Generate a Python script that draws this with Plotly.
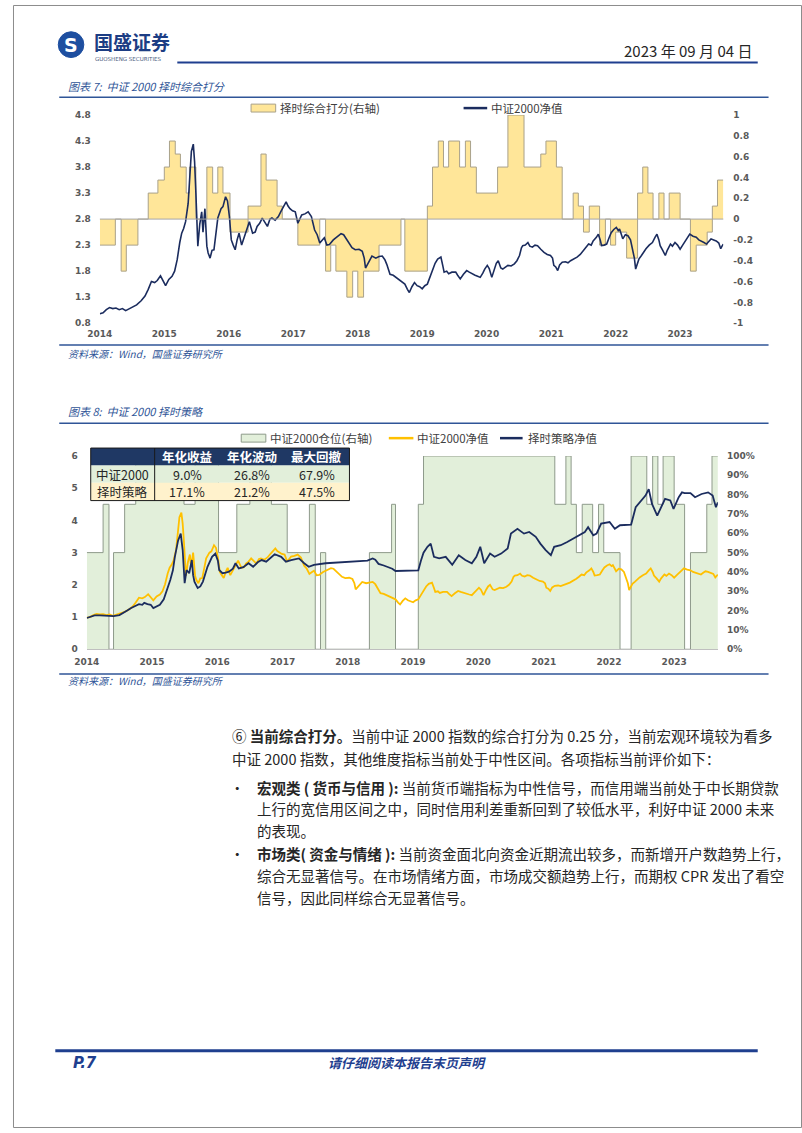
import pandas as pd
import plotly.graph_objects as go

W, H = 802, 1133

# ---------------- data ----------------
idx_year = [2014.00, 2014.05, 2014.10, 2014.15, 2014.20, 2014.25, 2014.30, 2014.35, 2014.40, 2014.45,
            2014.50, 2014.57, 2014.64, 2014.70, 2014.75, 2014.80, 2014.85, 2014.89, 2014.94, 2014.98,
            2015.02, 2015.07, 2015.12, 2015.16, 2015.20, 2015.24, 2015.27, 2015.30, 2015.33, 2015.37,
            2015.40, 2015.42, 2015.45, 2015.47, 2015.49, 2015.52, 2015.55, 2015.58, 2015.60, 2015.63,
            2015.66, 2015.68, 2015.71, 2015.74, 2015.77, 2015.80, 2015.83, 2015.88, 2015.91, 2015.95,
            2015.98, 2016.01, 2016.04, 2016.07, 2016.10, 2016.13, 2016.16, 2016.20, 2016.24, 2016.28,
            2016.32, 2016.37, 2016.41, 2016.44, 2016.48, 2016.52, 2016.56, 2016.60, 2016.64, 2016.67,
            2016.72, 2016.77, 2016.81, 2016.85, 2016.89, 2016.92, 2016.95, 2016.99, 2017.03, 2017.07,
            2017.10, 2017.13, 2017.18, 2017.23, 2017.28, 2017.33, 2017.37, 2017.41, 2017.45, 2017.48,
            2017.52, 2017.56, 2017.62, 2017.69, 2017.74, 2017.78, 2017.82, 2017.86, 2017.91, 2017.96,
            2018.02, 2018.07, 2018.10, 2018.12, 2018.17, 2018.22, 2018.28, 2018.33, 2018.38, 2018.42,
            2018.45, 2018.50, 2018.55, 2018.60, 2018.65, 2018.70, 2018.73, 2018.77, 2018.80, 2018.84,
            2018.88, 2018.92, 2018.96, 2019.00, 2019.04, 2019.08, 2019.11, 2019.16, 2019.20, 2019.24,
            2019.29, 2019.32, 2019.34, 2019.38, 2019.41, 2019.46, 2019.52, 2019.55, 2019.59, 2019.64,
            2019.69, 2019.73, 2019.77, 2019.82, 2019.86, 2019.90, 2019.94, 2019.97, 2020.01, 2020.04,
            2020.08, 2020.12, 2020.15, 2020.18, 2020.22, 2020.25, 2020.29, 2020.33, 2020.38, 2020.43,
            2020.47, 2020.51, 2020.54, 2020.56, 2020.60, 2020.64, 2020.67, 2020.71, 2020.75, 2020.79,
            2020.84, 2020.89, 2020.94, 2020.99, 2021.02, 2021.04, 2021.07, 2021.10, 2021.13, 2021.17,
            2021.22, 2021.26, 2021.30, 2021.35, 2021.40, 2021.45, 2021.50, 2021.54, 2021.58, 2021.62,
            2021.65, 2021.70, 2021.73, 2021.76, 2021.78, 2021.82, 2021.86, 2021.90, 2021.93, 2021.97,
            2022.01, 2022.04, 2022.06, 2022.09, 2022.11, 2022.15, 2022.19, 2022.23, 2022.26, 2022.29,
            2022.31, 2022.34, 2022.36, 2022.40, 2022.44, 2022.47, 2022.52, 2022.57, 2022.61, 2022.64,
            2022.67, 2022.69, 2022.73, 2022.77, 2022.80, 2022.85, 2022.88, 2022.92, 2022.96, 2023.00,
            2023.04, 2023.08, 2023.12, 2023.15, 2023.20, 2023.25, 2023.29, 2023.33, 2023.37, 2023.41,
            2023.45, 2023.48, 2023.52, 2023.56, 2023.60, 2023.63, 2023.65, 2023.67]
idx_val = [0.98, 1.00, 1.06, 1.10, 1.08, 1.09, 1.06, 1.08, 1.04, 1.07,
           1.10, 1.15, 1.23, 1.32, 1.45, 1.60, 1.58, 1.62, 1.71, 1.60,
           1.52, 1.64, 1.70, 1.80, 2.02, 2.35, 2.53, 2.62, 2.75, 3.10,
           3.80, 4.10, 4.24, 3.90, 3.30, 2.28, 2.70, 2.94, 2.55, 3.00,
           2.28, 2.15, 2.05, 2.20, 2.21, 2.55, 2.82, 3.00, 3.04, 3.23,
           3.15, 2.85, 2.40, 2.30, 2.21, 2.40, 2.53, 2.30, 2.45, 2.60,
           2.75, 2.53, 2.55, 2.66, 2.72, 2.82, 2.75, 2.66, 2.80, 2.82,
           2.78, 2.85, 2.95, 3.04, 3.13, 3.05, 3.00, 2.96, 2.94, 2.72,
           2.80, 2.88, 2.90, 2.94, 2.85, 2.59, 2.50, 2.34, 2.40, 2.44,
           2.30, 2.31, 2.40, 2.47, 2.52, 2.50, 2.42, 2.34, 2.25, 2.21,
           2.22, 2.18, 2.05, 1.86, 1.98, 2.09, 2.05, 2.08, 2.09, 2.02,
           1.93, 1.74, 1.72, 1.67, 1.63, 1.58, 1.55, 1.45, 1.39, 1.50,
           1.58, 1.52, 1.50, 1.46, 1.52, 1.55, 1.65, 1.84, 1.95, 2.03,
           2.07, 1.90, 1.78, 1.80, 1.75, 1.78, 1.78, 1.72, 1.65, 1.74,
           1.81, 1.78, 1.75, 1.72, 1.70, 1.68, 1.76, 1.84, 1.91, 1.85,
           1.68, 1.85, 1.95, 2.00, 1.86, 1.84, 1.88, 1.91, 1.90, 1.94,
           2.00, 2.10, 2.25, 2.29, 2.30, 2.35, 2.28, 2.26, 2.30, 2.29,
           2.22, 2.16, 2.12, 2.10, 2.05, 1.91, 1.88, 1.81, 1.92, 1.97,
           1.98, 1.96, 2.00, 2.03, 2.07, 2.12, 2.19, 2.25, 2.32, 2.30,
           2.38, 2.45, 2.51, 2.40, 2.29, 2.30, 2.32, 2.45, 2.54, 2.60,
           2.64, 2.58, 2.61, 2.50, 2.42, 2.50, 2.48, 2.40, 2.23, 2.05,
           1.84, 1.95, 2.03, 2.10, 2.18, 2.23, 2.30, 2.35, 2.45, 2.51,
           2.40, 2.29, 2.20, 2.10, 2.20, 2.32, 2.28, 2.35, 2.30, 2.22,
           2.30, 2.38, 2.45, 2.51, 2.47, 2.45, 2.40, 2.38, 2.35, 2.32,
           2.38, 2.42, 2.40, 2.38, 2.34, 2.23, 2.28, 2.32]

strat_year = [2014.00, 2014.06, 2014.12, 2014.20, 2014.28, 2014.34, 2014.41, 2014.50, 2014.55, 2014.62,
              2014.68, 2014.75, 2014.80, 2014.85, 2014.88, 2014.93, 2014.98, 2015.02, 2015.07, 2015.12,
              2015.18, 2015.24, 2015.28, 2015.32, 2015.35, 2015.40, 2015.44, 2015.47, 2015.50, 2015.53,
              2015.57, 2015.61, 2015.63, 2015.65, 2015.70, 2015.74, 2015.78, 2015.85, 2015.92, 2015.97,
              2016.01, 2016.03, 2016.08, 2016.13, 2016.18, 2016.24, 2016.28, 2016.33, 2016.40, 2016.48,
              2016.55, 2016.62, 2016.68, 2016.75, 2016.82, 2016.88, 2016.98, 2017.05, 2017.13, 2017.25,
              2017.33, 2017.40, 2017.48, 2017.58, 2017.66, 2018.30, 2018.33, 2018.38, 2018.42, 2018.47,
              2018.55, 2018.62, 2018.68, 2018.73, 2019.08, 2019.12, 2019.16, 2019.22, 2019.27, 2019.32,
              2019.40, 2019.50, 2019.60, 2019.70, 2019.80, 2019.90, 2019.97, 2020.03, 2020.09, 2020.18,
              2020.25, 2020.35, 2020.45, 2020.50, 2020.60, 2020.70, 2020.78, 2020.88, 2020.95, 2021.03,
              2021.11, 2021.16, 2021.26, 2021.36, 2021.46, 2021.56, 2021.63, 2021.68, 2021.76, 2021.81,
              2021.88, 2022.01, 2022.09, 2022.17, 2022.34, 2022.41, 2022.49, 2022.56, 2022.61, 2022.66,
              2022.74, 2022.81, 2022.86, 2022.94, 2022.99, 2023.07, 2023.12, 2023.16, 2023.25, 2023.32,
              2023.42, 2023.52, 2023.59, 2023.64, 2023.67]
strat_val = [0.97, 1.02, 1.05, 1.05, 1.04, 1.03, 1.03, 1.06, 1.13, 1.20,
             1.28, 1.36, 1.40, 1.38, 1.44, 1.40, 1.38, 1.28, 1.33, 1.38,
             1.55, 1.90, 2.15, 2.45, 2.87, 3.38, 3.59, 3.08, 2.05, 2.46,
             2.36, 2.77, 2.30, 2.10, 1.90, 1.95, 2.10, 2.56, 2.87, 2.97,
             2.75, 2.46, 2.36, 2.38, 2.41, 2.50, 2.67, 2.51, 2.55, 2.67,
             2.56, 2.70, 2.77, 2.72, 2.85, 2.95, 2.87, 2.72, 2.77, 2.82,
             2.67, 2.56, 2.62, 2.65, 2.67, 2.75, 2.77, 2.82, 2.78, 2.65,
             2.60, 2.55, 2.50, 2.43, 2.45, 2.75, 3.00, 3.18, 3.28, 2.87,
             2.82, 2.87, 2.62, 2.92, 2.77, 2.67, 2.87, 3.18, 2.67, 2.97,
             2.87, 2.97, 3.13, 3.59, 3.74, 3.59, 3.64, 3.49, 3.28, 3.08,
             2.92, 3.18, 3.23, 3.33, 3.44, 3.54, 3.64, 3.79, 3.54, 3.59,
             3.90, 3.95, 3.74, 3.85, 3.87, 4.41, 4.62, 4.77, 4.97, 4.51,
             4.15, 4.46, 4.67, 4.62, 4.36, 4.72, 4.87, 4.85, 4.85, 4.72,
             4.82, 4.87, 4.77, 4.41, 4.56]

score_start = [2014.00, 2014.24, 2014.33, 2014.41, 2014.59, 2014.75, 2014.90, 2015.00, 2015.08, 2015.17,
               2015.25, 2015.34, 2015.39, 2015.49, 2015.66, 2015.75, 2015.83, 2015.91, 2016.02, 2016.30,
               2016.50, 2016.58, 2016.75, 2016.83, 2017.07, 2017.41, 2017.50, 2017.58, 2017.66, 2017.83,
               2017.92, 2018.00, 2018.09, 2018.33, 2018.67, 2018.73, 2019.08, 2019.16, 2019.25, 2019.33,
               2019.41, 2019.58, 2019.67, 2019.75, 2019.84, 2020.17, 2020.33, 2020.58, 2020.84, 2020.92,
               2021.08, 2021.17, 2021.34, 2021.42, 2021.50, 2021.59, 2021.75, 2021.84, 2021.92, 2022.00,
               2022.17, 2022.34, 2022.42, 2022.50, 2022.58, 2022.67, 2022.75, 2022.83, 2023.00, 2023.16,
               2023.25, 2023.42, 2023.50, 2023.58]
score_val = [-0.25, 0, -0.5, -0.25, 0, 0.25, 0.375, 0.5, 0.75, 0.625,
             0.5, 0.25, 0.5, 0, 0.5, 0.25, 0.5, 0.25, -0.125, 0.125,
             0.625, 0.375, 0.125, 0, -0.25, 0, -0.5, -0.25, -0.5, -0.75,
             -0.5, -0.75, -0.5, -0.25, 0, -0.5, 0.125, 0.5, 0.75, 0.5,
             0.75, 0.5, 0.75, 0.5, 0.25, 0.5, 1.0, 0.5, 0.625, 0.75,
             0.5, 0, 0.25, 0.125, -0.125, 0.125, -0.25, 0, -0.25, -0.125,
             -0.375, 0.25, 0.5, 0.25, 0, 0.25, 0, 0.25, 0, -0.5,
             -0.25, -0.125, 0.125, 0.375]

pos_start = [2014.00, 2014.25, 2014.34, 2014.41, 2014.58, 2014.75, 2015.49, 2015.66, 2016.02, 2016.30,
             2016.50, 2016.83, 2017.07, 2017.41, 2017.50, 2017.58, 2017.66, 2018.33, 2018.67, 2018.73,
             2019.08, 2019.16, 2021.17, 2021.34, 2021.42, 2021.50, 2021.59, 2021.75, 2021.84, 2021.92,
             2022.17, 2022.34, 2022.58, 2022.67, 2022.75, 2022.83, 2023.00, 2023.16, 2023.25, 2023.50,
             2023.58]
pos_val = [0.50, 0.75, 0.00, 0.50, 0.75, 1.00, 0.75, 1.00, 0.50, 0.75,
           1.00, 0.75, 0.50, 0.75, 0.00, 0.50, 0.00, 0.50, 0.75, 0.00,
           0.75, 1.00, 0.75, 1.00, 0.75, 0.50, 0.75, 0.50, 0.75, 0.50,
           0.00, 1.00, 0.75, 1.00, 0.75, 1.00, 0.75, 0.00, 0.50, 0.75,
           1.00]

data_end = 2023.67
year_ticks = [2014, 2015, 2016, 2017, 2018, 2019, 2020, 2021, 2022, 2023]
score_ticks = [-1, -0.8, -0.6, -0.4, -0.2, 0, 0.2, 0.4, 0.6, 0.8, 1]
score_tick_text = ['-1', '-0.8', '-0.6', '-0.4', '-0.2', '0', '0.2', '0.4', '0.6', '0.8', '1']

table_header = ['年化收益', '年化波动', '最大回撤']
table_names = ['中证2000', '择时策略']
table_values = [['9.0%', '26.8%', '67.9%'], ['17.1%', '21.2%', '47.5%']]

# ---------------- helpers ----------------
def to_date(y):
    yr = int(y)
    return pd.Timestamp(year=yr, month=1, day=1) + pd.Timedelta(days=(y - yr) * 365.25)

def X(px):
    return px / W

def Y(py):
    return 1 - py / H

CJK = 'Noto Sans CJK SC'
NAVY = '#1B2C5E'
BLUE = '#2F5597'
DBLUE = '#1F3F8F'
TICKFONT = dict(family='DejaVu Sans', size=9, color='#595959', weight='bold')

idx_x = [to_date(v) for v in idx_year]
strat_x = [to_date(v) for v in strat_year]
score_x = [to_date(v) for v in score_start] + [to_date(data_end)]
score_y = score_val + [score_val[-1]]
pos_x = [to_date(v) for v in pos_start] + [to_date(data_end)]
pos_y = pos_val + [pos_val[-1]]
tick_dates = [to_date(v) for v in year_ticks]
tick_text = [str(v) for v in year_ticks]
xrange = [to_date(2014.0), to_date(data_end)]

fig = go.Figure()

# chart 1
fig.add_trace(go.Scatter(x=score_x, y=score_y, xaxis='x', yaxis='y', mode='lines',
                         line=dict(shape='hv', color='#A9A18A', width=1),
                         fill='tozeroy', fillcolor='#FFE699', name='择时综合打分(右轴)',
                         showlegend=False, hoverinfo='skip'))
fig.add_trace(go.Scatter(x=idx_x, y=idx_val, xaxis='x', yaxis='y2', mode='lines',
                         line=dict(color=NAVY, width=1.6), name='中证2000净值', showlegend=False))
# chart 2
fig.add_trace(go.Scatter(x=pos_x, y=pos_y, xaxis='x2', yaxis='y3', mode='lines',
                         line=dict(shape='hv', color='#8E9A8B', width=1),
                         fill='tozeroy', fillcolor='#E2EFDA', name='中证2000仓位(右轴)',
                         showlegend=False, hoverinfo='skip'))
fig.add_trace(go.Scatter(x=idx_x, y=idx_val, xaxis='x2', yaxis='y4', mode='lines',
                         line=dict(color='#FFC000', width=1.8), name='中证2000净值', showlegend=False))
fig.add_trace(go.Scatter(x=strat_x, y=strat_val, xaxis='x2', yaxis='y4', mode='lines',
                         line=dict(color=NAVY, width=1.8), name='择时策略净值', showlegend=False))

axis_common = dict(showgrid=False, zeroline=False, tickfont=TICKFONT, ticks='')
c1_dom = [Y(321), Y(111)]
c2_dom = [Y(650), Y(455)]

fig.update_layout(
    width=W, height=H, autosize=False,
    margin=dict(l=0, r=0, t=0, b=0),
    paper_bgcolor='white', plot_bgcolor='white',
    showlegend=False,
    xaxis=dict(domain=[X(88.3), X(722)], anchor='y', type='date', range=xrange,
               tickvals=tick_dates, ticktext=tick_text, showline=False,
               ticklabelstandoff=4, **axis_common),
    yaxis=dict(domain=c1_dom, anchor='x', side='right', range=[-1, 1],
               tickvals=score_ticks, ticktext=score_tick_text,
               ticklabelstandoff=9, **axis_common),
    yaxis2=dict(overlaying='y', anchor='x', side='left', range=[0.8, 4.8],
                tick0=0.8, dtick=0.5, tickformat='.1f', ticklabelstandoff=8, **axis_common),
    xaxis2=dict(domain=[X(75), X(716.5)], anchor='y3', type='date', range=xrange,
                tickvals=tick_dates, ticktext=tick_text, showline=True, linecolor='#BFBFBF',
                ticklabelstandoff=4, **axis_common),
    yaxis3=dict(domain=c2_dom, anchor='x2', side='right', range=[0, 1],
                dtick=0.1, tickformat='.0%', ticklabelstandoff=8, **axis_common),
    yaxis4=dict(overlaying='y3', anchor='x2', side='left', range=[0, 6],
                dtick=1, ticklabelstandoff=8, **axis_common),
)

shapes = []
annos = []

def hline(x0, x1, y, color, width):
    shapes.append(dict(type='line', xref='paper', yref='paper', x0=X(x0), x1=X(x1),
                       y0=Y(y), y1=Y(y), line=dict(color=color, width=width), layer='above'))

def rect(x0, x1, y0, y1, fill, line_color=None, lw=1):
    shapes.append(dict(type='rect', xref='paper', yref='paper', x0=X(x0), x1=X(x1),
                       y0=Y(y1), y1=Y(y0), fillcolor=fill,
                       line=dict(color=line_color or 'rgba(0,0,0,0)', width=lw if line_color else 0),
                       layer='above'))

def txt(x, y, s, size, color, anchor='left', family=CJK, style='normal', weight='normal'):
    annos.append(dict(x=X(x), y=Y(y), xref='paper', yref='paper', text=s, showarrow=False,
                      xanchor=anchor, yanchor='middle', borderpad=0,
                      font=dict(family=family, size=size, color=color, style=style, weight=weight)))

# page border
shapes.append(dict(type='rect', xref='paper', yref='paper', x0=X(0.5), x1=X(801.5), y0=Y(1132.5), y1=Y(0.5),
                   line=dict(color='#8C8C8C', width=1), fillcolor='rgba(0,0,0,0)', layer='above'))

# header
shapes.append(dict(type='circle', xref='paper', yref='paper', x0=X(46), x1=X(72), y0=Y(53), y1=Y(27),
                   fillcolor='#1E4FA0', line=dict(color='#1E4FA0', width=1), layer='above'))
txt(59, 40, '<b>S</b>', 19, 'white', anchor='center', family='DejaVu Sans')
txt(81, 37, '国盛证券', 19, '#1C3D84', weight='bold')
txt(82, 54.5, 'GUOSHENG SECURITIES', 5.5, '#4A5C80', family='DejaVu Sans')
txt(752, 46, '2023 年 09 月 04 日', 15, '#262626', anchor='right')
hline(167, 757, 58, DBLUE, 2)

# chart 1 frame
txt(55, 82, '图表 7:  中证 2000 择时综合打分', 11, BLUE, style='italic')
hline(47, 768, 93, BLUE, 1.5)
rect(242, 267, 100, 108, '#FFE699', '#A9A18A', 1)
txt(270, 104, '择时综合打分(右轴)', 11.5, '#404040')
hline(458, 482, 104, NAVY, 2.5)
txt(485, 104, '中证2000净值', 11.5, '#404040')
shapes.append(dict(type='line', xref='x domain', yref='y', x0=0, x1=1, y0=0, y1=0,
                   line=dict(color='#A6A6A6', width=1), layer='above'))
hline(47, 768, 343, BLUE, 1.5)
txt(55, 352, '资料来源：Wind，国盛证券研究所', 10, BLUE, style='italic')

# chart 2 frame
txt(55, 410, '图表 8:  中证 2000 择时策略', 11, BLUE, style='italic')
hline(47, 768, 422, BLUE, 1.5)
rect(232, 257, 433, 441, '#E2EFDA', '#8E9A8B', 1)
txt(260, 437, '中证2000仓位(右轴)', 11.5, '#404040')
hline(382, 407, 437, '#FFC000', 2.5)
txt(410, 437, '中证2000净值', 11.5, '#404040')
hline(495, 518, 437, NAVY, 2.5)
txt(522, 437, '择时策略净值', 11.5, '#404040')
hline(47, 768, 675, BLUE, 1.5)
txt(55, 682, '资料来源：Wind，国盛证券研究所', 10, BLUE, style='italic')

# table
tx0, tx1, tdiv = 79, 342, 144
row_edges = [447, 464.5, 482, 500]
rect(tx0, tx1, row_edges[0], row_edges[1], '#1F3864')
rect(tx0, tx1, row_edges[1], row_edges[2], '#E2EFDA')
rect(tx0, tx1, row_edges[2], row_edges[3], '#FFF2CC')
rect(tx0, tx1, row_edges[0], row_edges[3], 'rgba(0,0,0,0)', '#1A1A1A', 1)
shapes.append(dict(type='line', xref='paper', yref='paper', x0=X(tdiv), x1=X(tdiv),
                   y0=Y(row_edges[0]), y1=Y(row_edges[3]), line=dict(color='#1A1A1A', width=1),
                   layer='above'))
col_centers = [177, 242.5, 309]
for c, h in zip(col_centers, table_header):
    txt(c, (row_edges[0] + row_edges[1]) / 2, h, 12.5, 'white', anchor='center', weight='bold')
for r, (name, vals) in enumerate(zip(table_names, table_values)):
    yc = (row_edges[r + 1] + row_edges[r + 2]) / 2
    txt((tx0 + tdiv) / 2, yc, name, 12.5, '#262626', anchor='center')
    for c, v in zip(col_centers, vals):
        txt(c, yc, v, 12.5, '#262626', anchor='center')

# body text
BODY = '#262626'
bs = 14.5
txt(222, 737, '⑥ <b>当前综合打分。</b>当前中证 2000 指数的综合打分为 0.25 分，当前宏观环境较为看多', bs, BODY)
txt(222, 760, '中证 2000 指数，其他维度指标当前处于中性区间。各项指标当前评价如下：', bs, BODY)
txt(220, 789, '•', bs, BODY)
txt(247, 789, '<b>宏观类 ( 货币与信用 ):</b> 当前货币端指标为中性信号，而信用端当前处于中长期贷款', bs, BODY)
txt(247, 811, '上行的宽信用区间之中，同时信用利差重新回到了较低水平，利好中证 2000 未来', bs, BODY)
txt(247, 833, '的表现。', bs, BODY)
txt(220, 856, '•', bs, BODY)
txt(247, 856, '<b>市场类( 资金与情绪 ):</b> 当前资金面北向资金近期流出较多，而新增开户数趋势上行，', bs, BODY)
txt(247, 878, '综合无显著信号。在市场情绪方面，市场成交额趋势上行，而期权 CPR 发出了看空', bs, BODY)
txt(247, 900, '信号，因此同样综合无显著信号。', bs, BODY)

# footer
hline(43, 757, 1055, DBLUE, 3)
txt(60, 1067, 'P.7', 15, DBLUE, family='DejaVu Sans', style='italic', weight='bold')
txt(400, 1067, '请仔细阅读本报告末页声明', 13, DBLUE, anchor='center', style='italic', weight='bold')

fig.update_layout(shapes=shapes, annotations=annos)
fig.write_html('out.html')
